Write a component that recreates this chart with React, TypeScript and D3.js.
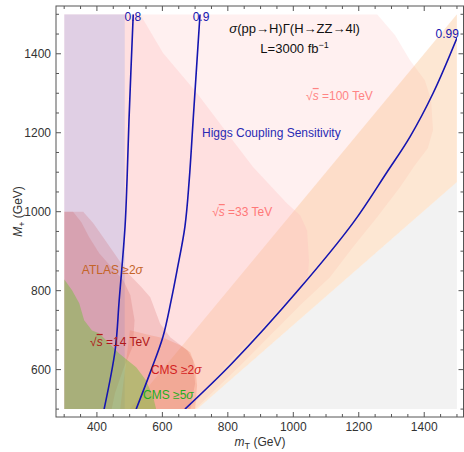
import React from "react";
import * as d3 from "d3";

// ---------- data (mT, M+) in GeV ----------
const xMajorTicks = [400, 600, 800, 1000, 1200, 1400];
const yMajorTicks = [600, 800, 1000, 1200, 1400];
const xMinorTicks = d3.range(300, 1501, 50);
const yMinorTicks = d3.range(500, 1501, 50);

const grayRegion = [[706, 500], [1500, 1075], [1500, 500]];
const bandRegion = [[500, 500], [1500, 1500], [1500, 1075], [706, 500]];
const pink100Region = [
  [300, 500], [300, 1500], [1256, 1500], [1311, 1447], [1356, 1384], [1402, 1333],
  [1421, 1283], [1427, 1207], [1411, 1161], [1372, 1118], [1326, 1062], [1256, 986],
  [1182, 910], [1112, 834], [1021, 763], [845, 616], [700, 500],
];
const pink33Region = [
  [300, 500], [300, 1500], [532, 1500], [602, 1402], [706, 1300], [807, 1189],
  [877, 1113], [914, 1080], [981, 1021], [1021, 991], [1042, 953], [1048, 877],
  [1045, 839], [1021, 806], [990, 783], [898, 699], [807, 623], [731, 547], [685, 500],
];
const purpleRegion = [[300, 500], [300, 1500], [485, 1500], [485, 500]];
const roseOuterRegion = [
  [300, 500], [300, 1000], [358, 1000], [389, 971], [419, 935], [453, 895], [495, 844],
  [535, 810], [563, 783], [593, 717], [624, 682], [676, 649], [694, 624], [700, 565], [685, 500],
];
const roseInnerRegion = [
  [300, 500], [300, 1000], [327, 1000], [352, 974], [376, 936], [407, 895], [444, 860],
  [480, 827], [502, 789], [515, 725], [510, 660], [480, 600], [455, 540], [445, 500],
];
const cms2Region = [
  [471, 500], [501, 700], [563, 687], [608, 679], [654, 662], [685, 644], [700, 611],
  [706, 560], [700, 500],
];
const greenRegion = [
  [300, 500], [300, 829], [324, 801], [346, 768], [361, 725], [385, 699], [407, 692],
  [468, 641], [520, 606], [550, 573], [572, 530], [581, 500],
];

const contour080 = [[511, 1500], [498, 1232], [492, 1080], [486, 963], [468, 775], [456, 651], [422, 500]];
const contour090 = [[715, 1500], [694, 1232], [682, 1080], [669, 963], [645, 852], [627, 776], [602, 684], [563, 593], [520, 500]];
const contour099 = [[669, 500], [813, 616], [1018, 804], [1182, 971], [1286, 1100], [1356, 1189], [1427, 1300], [1500, 1440]];

const W = 464;
const H = 452;
const FONT = "'Liberation Sans', Arial, sans-serif";

export default function App() {
  const x = d3.scaleLinear().domain([275, 1520]).range([56, 463.5]);
  const y = d3.scaleLinear().domain([480, 1521]).range([417, 6]);

  const area = d3.line<number[]>().x((d) => x(d[0])).y((d) => y(d[1]));
  const poly = (pts: number[][]) => area(pts) + "Z";
  const curve = d3
    .line<number[]>()
    .x((d) => x(d[0]))
    .y((d) => y(d[1]))
    .curve(d3.curveCatmullRom.alpha(0.5));

  const blue = "#1515b0";

  return (
    <svg
      width={W}
      height={H}
      style={{ position: "absolute", left: 0, top: 0, background: "#fff" }}
      fontFamily={FONT}
    >
      <defs>
        <clipPath id="plotclip">
          <rect x={x(300)} y={y(1500)} width={x(1500) - x(300)} height={y(500) - y(1500)} />
        </clipPath>
      </defs>
      <g clipPath="url(#plotclip)">
        <path d={poly(grayRegion)} fill="#f2f2f2" />
        <path d={poly(pink100Region)} fill="rgb(255,205,205)" fillOpacity={0.3} />
        <path d={poly(bandRegion)} fill="rgb(250,185,130)" fillOpacity={0.35} />
        <path d={poly(pink33Region)} fill="rgb(255,190,190)" fillOpacity={0.3} />
        <path d={poly(purpleRegion)} fill="rgb(160,170,235)" fillOpacity={0.32} />
        <path d={poly(roseOuterRegion)} fill="rgb(200,70,70)" fillOpacity={0.18} />
        <path d={poly(roseInnerRegion)} fill="rgb(200,70,70)" fillOpacity={0.18} />
        <path d={poly(cms2Region)} fill="rgb(240,110,70)" fillOpacity={0.22} />
        <path d={poly(greenRegion)} fill="rgb(110,190,55)" fillOpacity={0.45} />

        <path d={curve(contour080) || ""} fill="none" stroke={blue} strokeWidth={1.6} />
        <path d={curve(contour090) || ""} fill="none" stroke={blue} strokeWidth={1.6} />
        <path d={curve(contour099) || ""} fill="none" stroke={blue} strokeWidth={1.6} />
      </g>

      {/* contour labels */}
      <g fill={blue} fontSize={12} textAnchor="middle">
        <text x={x(510)} y={y(1483)}>0.8</text>
        <text x={x(718)} y={y(1483)}>0.9</text>
        <text x={x(1470)} y={y(1440)}>0.99</text>
      </g>

      {/* annotations */}
      <text x={x(1004)} y={y(1453)} fontSize={13} textAnchor="middle" fill="#111">
        <tspan fontStyle="italic">σ</tspan>(pp→H)Γ(H→ZZ→4l)
      </text>
      <text x={x(1004)} y={y(1402)} fontSize={13} textAnchor="middle" fill="#111">
        L=3000 fb<tspan dy={-5} fontSize={9}>−1</tspan>
      </text>
      <text x={x(1039)} y={y(1283)} fontSize={12} fill="#ff8484">
        √<tspan fontStyle="italic" textDecoration="overline">s</tspan> =100 TeV
      </text>
      <text x={x(721)} y={y(1189)} fontSize={12} fill="#2a2ab4">
        Higgs Coupling Sensitivity
      </text>
      <text x={x(752)} y={y(989)} fontSize={12} fill="#ff7878">
        √<tspan fontStyle="italic" textDecoration="overline">s</tspan> =33 TeV
      </text>
      <text x={x(354)} y={y(842)} fontSize={12} fill="#c46428">
        ATLAS ≥2<tspan fontStyle="italic">σ</tspan>
      </text>
      <text x={x(379)} y={y(660)} fontSize={12} fill="#b01818">
        √<tspan fontStyle="italic" textDecoration="overline">s</tspan> =14 TeV
      </text>
      <text x={x(565)} y={y(589)} fontSize={12} fill="#d21e1e">
        CMS ≥2<tspan fontStyle="italic">σ</tspan>
      </text>
      <text x={x(541)} y={y(526)} fontSize={12} fill="#1fae1f">
        CMS ≥5<tspan fontStyle="italic">σ</tspan>
      </text>

      {/* frame */}
      <rect x={56} y={6} width={407.5} height={411} fill="none" stroke="#555" strokeWidth={1} />

      {/* ticks */}
      <g stroke="#555" strokeWidth={1}>
        {xMinorTicks.map((t) => {
          const major = xMajorTicks.includes(t);
          const l = major ? 5 : 3;
          return (
            <g key={"xt" + t}>
              <line x1={x(t)} x2={x(t)} y1={417} y2={417 - l} />
              <line x1={x(t)} x2={x(t)} y1={6} y2={6 + l} />
            </g>
          );
        })}
        {yMinorTicks.map((t) => {
          const major = yMajorTicks.includes(t);
          const l = major ? 5 : 3;
          return (
            <g key={"yt" + t}>
              <line x1={56} x2={56 + l} y1={y(t)} y2={y(t)} />
              <line x1={463.5} x2={463.5 - l} y1={y(t)} y2={y(t)} />
            </g>
          );
        })}
      </g>

      {/* tick labels */}
      <g fontSize={12} fill="#333">
        {xMajorTicks.map((t) => (
          <text key={"xl" + t} x={x(t)} y={431} textAnchor="middle">
            {t}
          </text>
        ))}
        {yMajorTicks.map((t) => (
          <text key={"yl" + t} x={51} y={y(t) + 4} textAnchor="end">
            {t}
          </text>
        ))}
      </g>

      {/* axis labels */}
      <text x={260} y={446} fontSize={12} textAnchor="middle" fill="#333">
        <tspan fontStyle="italic">m</tspan>
        <tspan dy={3} fontSize={9}>T</tspan>
        <tspan dy={-3}> (GeV)</tspan>
      </text>
      <text transform="translate(22,211.5) rotate(-90)" fontSize={12} textAnchor="middle" fill="#333">
        <tspan fontStyle="italic">M</tspan>
        <tspan dy={3} fontSize={9}>+</tspan>
        <tspan dy={-3}> (GeV)</tspan>
      </text>
    </svg>
  );
}
